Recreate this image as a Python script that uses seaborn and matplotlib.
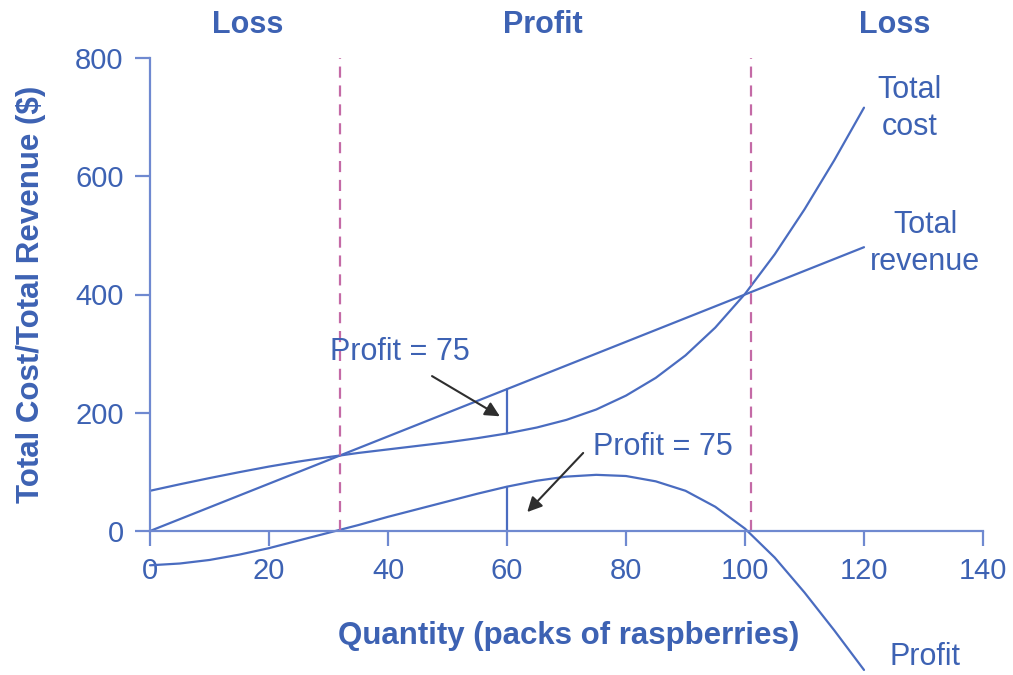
import numpy as np
import pandas as pd
import seaborn as sns
import matplotlib.pyplot as plt
from matplotlib import transforms

# Quantity of packs and the matching totals ($)
quantity = [0, 5, 10, 15, 20, 25, 30, 35, 40, 45, 50, 55, 60,
            65, 70, 75, 80, 85, 90, 95, 100, 105, 110, 115, 120]
total_revenue = [0, 20, 40, 60, 80, 100, 120, 140, 160, 180, 200, 220, 240,
                 260, 280, 300, 320, 340, 360, 380, 400, 420, 440, 460, 480]
total_cost = [68, 79, 89.5, 99.5, 109, 117.5, 125, 132, 138, 144, 150, 157, 165,
              175, 188, 205.5, 229, 259, 297, 344, 401, 468, 544, 627, 716]
profit = [-58, -55, -49, -40, -29, -16, -3, 10, 24, 37, 50, 63, 75,
          85, 92, 95, 93, 84, 68, 41, 4, -45, -104, -168, -235]

# Break-even quantities and the highlighted quantity
break_even = [32, 101]
marked_q = 60
marked_tr = 240
marked_tc = 165
marked_profit = 75

x_ticks = [0, 20, 40, 60, 80, 100, 120, 140]
y_ticks = [0, 200, 400, 600, 800]
region_labels = ["Loss", "Profit", "Loss"]
region_x = [16.5, 66, 125.2]

LINE = "#4a6cc0"
TEXT = "#3d62b3"
SPINE = "#6f89d0"
DASH = "#c46aa6"
ARROW = "#2e2e2e"

sns.set_theme(style="ticks")
plt.rcParams["font.family"] = ["Liberation Sans", "DejaVu Sans"]

fig = plt.figure(figsize=(10.13, 6.75), dpi=100)
ax = fig.add_axes([150 / 1013, 1 - 531 / 675, 833 / 1013, 473 / 675])

df = pd.DataFrame({"q": quantity, "tr": total_revenue,
                   "tc": total_cost, "profit": profit})

sns.lineplot(data=df, x="q", y="tc", ax=ax, color=LINE, lw=1.6)
sns.lineplot(data=df, x="q", y="tr", ax=ax, color=LINE, lw=1.6)
sns.lineplot(data=df, x="q", y="profit", ax=ax, color=LINE, lw=1.6)
for ln in ax.lines:
    ln.set_clip_on(False)
    ln.set_solid_joinstyle("round")

# profit gaps at the highlighted quantity
ax.plot([marked_q, marked_q], [marked_tc, marked_tr], color=LINE, lw=1.6)
ax.plot([marked_q, marked_q], [0, marked_profit], color=LINE, lw=1.6)

# break-even markers
for be in break_even:
    ax.plot([be, be], [0, 800], color=DASH, lw=1.6, ls=(0, (5, 3.5)))

ax.set_xlim(0, 140)
ax.set_ylim(0, 800)
ax.set_xticks(x_ticks)
ax.set_yticks(y_ticks)
ax.spines["top"].set_visible(False)
ax.spines["right"].set_visible(False)
for side in ("left", "bottom"):
    ax.spines[side].set_color(SPINE)
    ax.spines[side].set_linewidth(1.6)
ax.tick_params(axis="both", colors=SPINE, length=11, width=1.6,
               labelsize=21, labelcolor=TEXT)
ax.tick_params(axis="x", pad=8)
ax.tick_params(axis="y", pad=8)
ax.set_facecolor("white")

ax.set_xlabel("Quantity (packs of raspberries)", fontsize=22.5,
              fontweight="bold", color=TEXT)
ax.set_ylabel("Total Cost/Total Revenue ($)", fontsize=22.5,
              fontweight="bold", color=TEXT)
ax.xaxis.set_label_coords(0.502, -0.19)
ax.yaxis.set_label_coords(-0.125, 0.5)

# region labels along the top
trans = transforms.blended_transform_factory(ax.transData, fig.transFigure)
for lab, xc in zip(region_labels, region_x):
    ax.text(xc, 1 - 25 / 675, lab, transform=trans, ha="center", va="center",
            fontsize=22, fontweight="bold", color=TEXT)

# curve labels
ax.text(127.7, 714, "Total\ncost", ha="center", va="center", fontsize=22,
        color=TEXT, linespacing=1.3)
ax.text(130.3, 487, "Total\nrevenue", ha="center", va="center", fontsize=22,
        color=TEXT, linespacing=1.3)
ax.text(130.3, -213, "Profit", ha="center", va="center", fontsize=22,
        color=TEXT, clip_on=False)

# profit callouts
arrow = dict(arrowstyle="-|>", color=ARROW, lw=1.5, mutation_scale=22,
             shrinkA=0, shrinkB=0)
ax.text(42, 303, "Profit = 75", ha="center", va="center", fontsize=22,
        color=TEXT)
ax.annotate("", xy=(58.8, 194), xytext=(47.4, 262), arrowprops=arrow)
ax.text(86.2, 142, "Profit = 75", ha="center", va="center", fontsize=22,
        color=TEXT)
ax.annotate("", xy=(63.4, 32), xytext=(72.8, 132), arrowprops=arrow)

fig.savefig("out.png", dpi=100, facecolor="white")
